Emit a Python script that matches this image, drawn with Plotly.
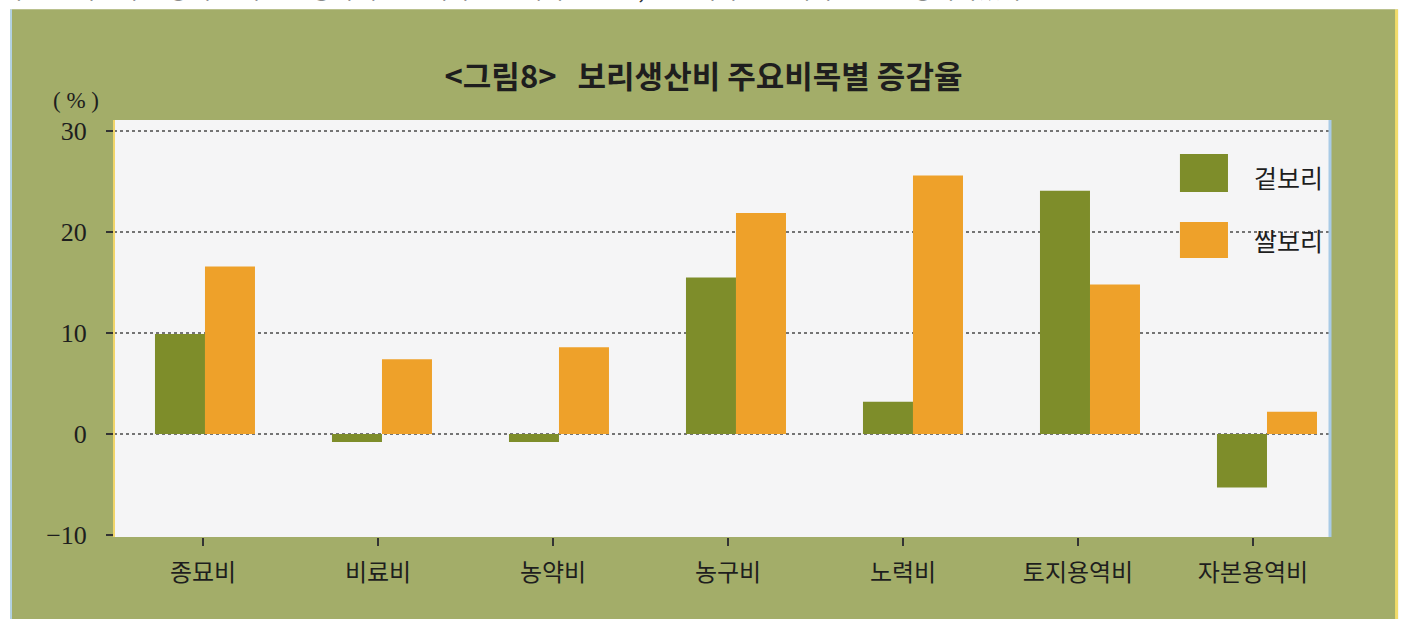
import plotly.graph_objects as go

categories = ["종묘비", "비료비", "농약비", "농구비", "노력비", "토지용역비", "자본용역비"]
series_names = ["겉보리", "쌀보리"]
naked_barley = [9.9, -0.8, -0.8, 15.5, 3.2, 24.1, -5.3]
rice_barley = [16.6, 7.4, 8.6, 21.9, 25.6, 14.8, 2.2]
y_ticks = [-10, 0, 10, 20, 30]
grid_vals = [0, 10, 20, 30]
title_text = "&lt;그림8&gt;&nbsp;&nbsp;&nbsp;보리생산비 주요비목별 증감율"
unit_text = "( % )"
top_text = "가고 음식료 수입량이 전국으로 증가해 겉보리가 전년대비 24.5%, 쌀보리가 전년대비 15.3% 증가하였다."

GREEN_BG = "#a3ad69"
GREEN = "#7e8d2a"
ORANGE = "#eea12a"
TXT = "#1e1e1e"

fig = go.Figure()
fig.add_trace(go.Bar(x=categories, y=naked_barley, name=series_names[0],
                     marker=dict(color=GREEN, line=dict(width=0)), showlegend=False))
fig.add_trace(go.Bar(x=categories, y=rice_barley, name=series_names[1],
                     marker=dict(color=ORANGE, line=dict(width=0)), showlegend=False))
# invisible trace carrying the category tick axis
fig.add_trace(go.Scatter(x=list(range(len(categories))), y=[None] * len(categories),
                         xaxis="x2", yaxis="y", mode="markers", showlegend=False,
                         hoverinfo="skip"))

shapes = []
for v in grid_vals:
    shapes.append(dict(type="line", xref="paper", yref="y", x0=0, x1=1, y0=v, y1=v,
                       line=dict(color="#4a4a4a", width=1.5, dash="dot"), layer="below"))
# legend swatches
shapes.append(dict(type="rect", xref="paper", yref="paper", x0=0.8766, x1=0.9161,
                   y0=0.8273, y1=0.9185, fillcolor=GREEN, line=dict(width=0), layer="above"))
shapes.append(dict(type="rect", xref="paper", yref="paper", x0=0.8766, x1=0.9161,
                   y0=0.6691, y1=0.7554, fillcolor=ORANGE, line=dict(width=0), layer="above"))
# page edges (scan)
shapes.append(dict(type="rect", xref="paper", yref="paper", x0=-0.2, x1=-0.0855,
                   y0=-0.5, y1=1.5, fillcolor="white", line=dict(width=0), layer="below"))
shapes.append(dict(type="rect", xref="paper", yref="paper", x0=-0.0855, x1=-0.0839,
                   y0=-0.5, y1=1.2658, fillcolor="#b4d3e6", line=dict(width=0), layer="below"))
shapes.append(dict(type="rect", xref="paper", yref="paper", x0=1.0535, x1=1.0560,
                   y0=-0.5, y1=1.2658, fillcolor="#f2dc6a", line=dict(width=0), layer="below"))
shapes.append(dict(type="rect", xref="paper", yref="paper", x0=1.0560, x1=1.2,
                   y0=-0.5, y1=1.5, fillcolor="white", line=dict(width=0), layer="below"))
shapes.append(dict(type="rect", xref="paper", yref="paper", x0=-0.2, x1=1.2,
                   y0=1.2658, y1=1.5, fillcolor="white", line=dict(width=0), layer="below"))
# slight scan fringes on the plot frame
shapes.append(dict(type="line", xref="paper", yref="paper", x0=0, x1=0, y0=0, y1=1,
                   line=dict(color="#f1d56a", width=2), layer="above"))
shapes.append(dict(type="line", xref="paper", yref="paper", x0=1, x1=1, y0=0, y1=1,
                   line=dict(color="#a9cbe6", width=3), layer="above"))

annotations = [
    dict(text=series_names[0], xref="paper", yref="paper", x=0.9359, y=0.8633,
         xanchor="left", yanchor="middle", showarrow=False,
         font=dict(family="Noto Sans CJK KR", size=25, color=TXT)),
    dict(text=series_names[1], xref="paper", yref="paper", x=0.9359, y=0.7122,
         xanchor="left", yanchor="middle", showarrow=False,
         font=dict(family="Noto Sans CJK KR", size=25, color=TXT)),
    dict(text=unit_text, xref="paper", yref="paper", x=-0.0313, y=1.0456,
         xanchor="center", yanchor="middle", showarrow=False,
         font=dict(family="Liberation Serif", size=23, color=TXT)),
    dict(text=top_text, xref="paper", yref="paper", x=-0.0938, y=1.2710,
         xanchor="left", yanchor="bottom", showarrow=False,
         font=dict(family="Noto Sans CJK KR", size=24, color="#333")),
]

fig.update_layout(
    width=1407, height=619,
    margin=dict(l=114, r=77, t=120, b=82),
    paper_bgcolor=GREEN_BG,
    plot_bgcolor="#f5f5f6",
    barmode="group", bargap=0.435, bargroupgap=0,
    title=dict(text=title_text, x=0.5, xref="container", xanchor="center",
               y=1 - 77 / 619, yref="container", yanchor="middle",
               font=dict(family="Noto Sans CJK KR", size=31, color=TXT, weight="bold")),
    xaxis=dict(type="category", range=[-0.514, 6.356], showticklabels=False,
               ticks="", showgrid=False, zeroline=False, showline=False, fixedrange=True),
    xaxis2=dict(overlaying="x", anchor="y", side="bottom", range=[-0.5086, 6.44],
                tickmode="array", tickvals=list(range(len(categories))), ticktext=categories,
                ticks="outside", ticklen=8, tickwidth=1.5, tickcolor="#333",
                showgrid=False, zeroline=False, showline=False,
                tickfont=dict(family="Noto Sans CJK KR", size=24, color=TXT),
                ticklabelstandoff=6),
    yaxis=dict(range=[-10.2, 31.1], tickmode="array", tickvals=y_ticks,
               ticks="outside", ticklen=7, tickwidth=1.5, tickcolor="#333",
               showgrid=False, zeroline=False, showline=False,
               tickfont=dict(family="Liberation Serif", size=26, color=TXT),
               ticklabelstandoff=14),
    shapes=shapes,
    annotations=annotations,
)

fig.write_html("out.html", config={"displayModeBar": False},
               post_script="document.body.style.margin='0';document.body.style.overflow='hidden';")
